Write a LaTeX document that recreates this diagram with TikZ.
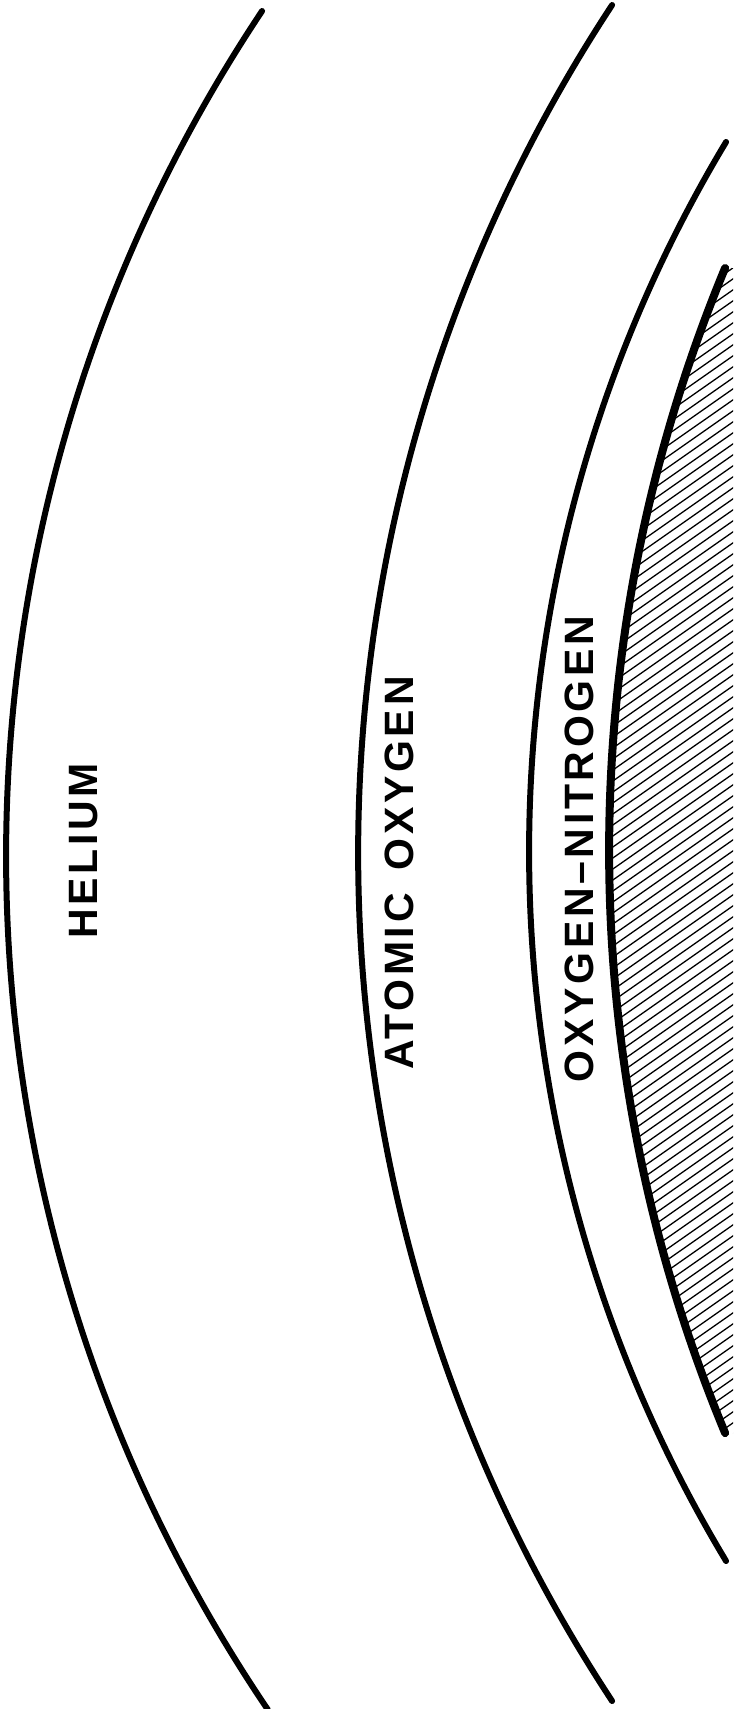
\documentclass[tikz,border=0pt]{standalone}
\usepackage{fontspec}
\setmainfont{Liberation Sans}
\newfontfamily\layerfont[LetterSpace=9]{Liberation Sans}

\begin{document}
\begin{tikzpicture}[
        x=1pt, y=1pt,
        layer/.style={line width=6pt, line cap=round},
        ground/.style={line width=8pt, line cap=round},
        hatch/.style={line width=1.3pt},
        zone/.style={rotate=90, inner sep=0pt, font={\layerfont\bfseries\fontsize{41pt}{41pt}\selectfont}}
    ]
    \useasboundingbox (0,0) rectangle (735,-1709);

    \coordinate (c1) at (1528.6,-856);
    \coordinate (c2) at (1900.6,-853);
    \coordinate (c3) at (1905.1,-851.5);
    \coordinate (c4) at (2129.5,-850.5);

    \draw[layer] (c1) ++(146.29:1522.6) arc[start angle=146.29, end angle=214.1, radius=1522.6];
    \draw[layer] (c2) ++(146.65:1542.6) arc[start angle=146.65, end angle=213.35, radius=1542.6];
    \draw[layer] (c3) ++(148.96:1376.1) arc[start angle=148.96, end angle=211.04, radius=1376.1];

    \begin{scope}
        \clip (c4) ++(157.47:1520.5) arc[start angle=157.47, end angle=202.53, radius=1520.5]
            -- (733,-1433) -- (733,-268) -- cycle;
        \foreach \k in {0,...,120}
            \draw[hatch] (600,-1560+11*\k) -- ++(35:180);
    \end{scope}
    \draw[ground] (c4) ++(157.47:1520.5) arc[start angle=157.47, end angle=202.53, radius=1520.5];

    \node[zone] (helium) at (84,-851) {HELIUM};
    \node[zone] (atomic) at (399,-873) {ATOMIC\hspace{8pt} OXYGEN};
    \node[zone] (oxynit) at (579,-849) {OXYGEN–NITROGEN};
\end{tikzpicture}
\end{document}
